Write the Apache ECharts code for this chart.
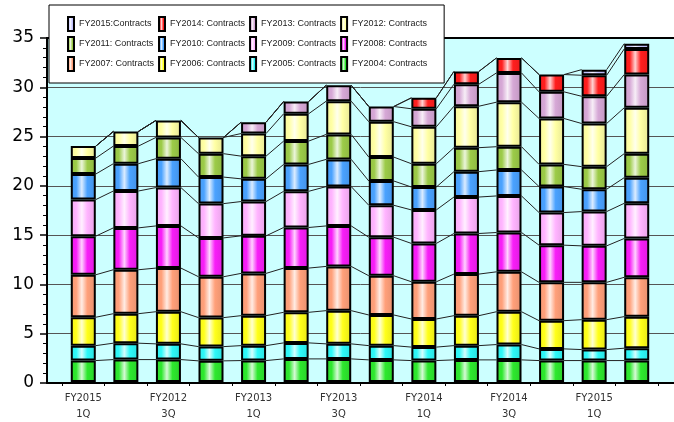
<!DOCTYPE html>
<html>
<head>
<meta charset="utf-8">
<script src="https://cdn.jsdelivr.net/npm/echarts@6/dist/echarts.min.js"></script>
<style>
  html, body { margin: 0; padding: 0; background: #fff; }
  #chart { width: 674px; height: 422px; }
</style>
</head>
<body>
<div id="chart"></div>
<script>
// Quarter categories (every other one is labelled on the axis)
const quarters = [
  'FY2015\n1Q', 'FY2012\n2Q', 'FY2012\n3Q', 'FY2012\n4Q',
  'FY2013\n1Q', 'FY2013\n2Q', 'FY2013\n3Q', 'FY2013\n4Q',
  'FY2014\n1Q', 'FY2014\n2Q', 'FY2014\n3Q', 'FY2014\n4Q',
  'FY2015\n1Q', 'FY2015\n2Q'
];

// Contract amounts per fiscal-year cohort, one value per quarter (bottom of stack first)
const fy2004 = [2.18, 2.28, 2.28, 2.15, 2.18, 2.35, 2.35, 2.25, 2.18, 2.25, 2.25, 2.18, 2.18, 2.18];
const fy2005 = [1.52, 1.67, 1.60, 1.45, 1.52, 1.63, 1.53, 1.45, 1.37, 1.45, 1.56, 1.19, 1.12, 1.26];
const fy2006 = [2.89, 3.00, 3.27, 2.95, 3.05, 3.11, 3.38, 3.12, 2.86, 3.05, 3.34, 2.87, 3.04, 3.21];
const fy2007 = [4.32, 4.47, 4.44, 4.16, 4.30, 4.50, 4.50, 3.99, 3.79, 4.23, 4.06, 3.90, 3.80, 4.00];
const fy2008 = [3.93, 4.26, 4.29, 3.95, 3.82, 4.13, 4.12, 3.92, 3.90, 4.13, 4.00, 3.78, 3.71, 3.95];
const fy2009 = [3.72, 3.75, 3.90, 3.49, 3.49, 3.68, 4.00, 3.25, 3.41, 3.71, 3.72, 3.32, 3.49, 3.58];
const fy2010 = [2.60, 2.78, 2.94, 2.70, 2.31, 2.74, 2.77, 2.47, 2.33, 2.58, 2.64, 2.64, 2.27, 2.61];
const fy2011 = [1.62, 1.79, 2.16, 2.38, 2.31, 2.37, 2.54, 2.43, 2.37, 2.44, 2.37, 2.26, 2.30, 2.44];
const fy2012 = [1.22, 1.49, 1.73, 1.65, 2.30, 2.78, 3.38, 3.60, 3.76, 4.22, 4.53, 4.67, 4.39, 4.67];
const fy2013 = [0, 0, 0, 0, 1.15, 1.25, 1.62, 1.55, 1.83, 2.24, 2.98, 2.71, 2.77, 3.38];
const fy2014 = [0, 0, 0, 0, 0, 0, 0, 0, 1.11, 1.30, 1.52, 1.76, 2.14, 2.60];
const fy2015 = [0, 0, 0, 0, 0, 0, 0, 0, 0, 0, 0, 0, 0.57, 0.54];

// Legend labels (bottom of stack first)
const seriesNames = [
  'FY2004: Contracts', 'FY2005: Contracts', 'FY2006: Contracts', 'FY2007: Contracts',
  'FY2008: Contracts', 'FY2009: Contracts', 'FY2010: Contracts', 'FY2011: Contracts',
  'FY2012: Contracts', 'FY2013: Contracts', 'FY2014: Contracts', 'FY2015:Contracts'
];
const seriesValues = [fy2004, fy2005, fy2006, fy2007, fy2008, fy2009, fy2010, fy2011, fy2012, fy2013, fy2014, fy2015];
const baseColors = [
  '#2ee82e', '#2ef8f8', '#ffff1a', '#ffa07a', '#f81ef8', '#ffb4ff',
  '#4aa2ff', '#9ccb48', '#ffffa4', '#d6a8d6', '#ff1e1e', '#c4c4ff'
];

const BAR_W = 25;

function mix(hex, target, t) {
  const a = parseInt(hex.slice(1), 16), b = parseInt(target.slice(1), 16);
  const ch = (v, s) => (v >> s) & 255;
  const m = s => Math.round(ch(a, s) + (ch(b, s) - ch(a, s)) * t);
  return 'rgb(' + m(16) + ',' + m(8) + ',' + m(0) + ')';
}
// Cylinder-like shading: solid edges with a narrow highlight left of centre
function barFill(base) {
  return new echarts.graphic.LinearGradient(0, 0, 1, 0, [
    { offset: 0, color: mix(base, '#000000', 0.04) },
    { offset: 0.22, color: base },
    { offset: 0.44, color: mix(base, '#ffffff', 0.8) },
    { offset: 0.66, color: base },
    { offset: 1, color: mix(base, '#000000', 0.1) }
  ]);
}

// Running totals for the series lines between neighbouring bars
const cumulative = [];
seriesValues.forEach((vals, k) => {
  cumulative.push(vals.map((v, i) => v + (k ? cumulative[k - 1][i] : 0)));
});
const connectorData = [];
for (let k = 0; k < cumulative.length; k++) {
  for (let i = 0; i < quarters.length - 1; i++) {
    connectorData.push([i, cumulative[k][i], cumulative[k][i + 1]]);
  }
}

const barSeries = seriesValues.map((vals, k) => ({
  name: seriesNames[k],
  type: 'bar',
  stack: 'total',
  xAxisIndex: 1,
  yAxisIndex: 1,
  barWidth: BAR_W,
  data: vals.map(v => (v === 0 ? null : v)),
  itemStyle: { color: barFill(baseColors[k]), borderColor: '#000', borderWidth: 2 },
  emphasis: { disabled: true },
  z: 3
}));

const connectorSeries = {
  type: 'custom',
  xAxisIndex: 1,
  yAxisIndex: 1,
  data: connectorData,
  encode: { x: 0, y: [1, 2] },
  silent: true,
  z: 2,
  renderItem(params, api) {
    const i = api.value(0);
    const p0 = api.coord([i, api.value(1)]);
    const p1 = api.coord([i + 1, api.value(2)]);
    return {
      type: 'line',
      shape: { x1: p0[0] + BAR_W / 2, y1: p0[1], x2: p1[0] - BAR_W / 2, y2: p1[1] },
      style: { stroke: '#222', lineWidth: 1 }
    };
  }
};

// Legend reads top-left to bottom-right, newest cohort first
const legendOrder = seriesNames.slice().reverse();

const chart = echarts.init(document.getElementById('chart'), null, { renderer: 'canvas' });
chart.setOption({
  animation: false,
  grid: [
    { left: 47, right: 0, top: 38, bottom: 39, show: true, backgroundColor: '#ccffff', borderWidth: 0 },
    { left: 62, right: 16, top: 38, bottom: 39 }
  ],
  legend: {
    data: legendOrder,
    left: 49,
    top: 5,
    width: 400,
    orient: 'horizontal',
    padding: [11, 17, 11, 18],
    itemGap: 4,
    itemWidth: 6,
    itemHeight: 14,
    icon: 'rect',
    selectedMode: false,
    backgroundColor: '#fff',
    borderColor: '#000',
    borderWidth: 1,
    itemStyle: { borderColor: '#000', borderWidth: 2 },
    textStyle: {
      fontFamily: 'Liberation Sans', fontSize: 9, color: '#222',
      width: 75, height: 16, lineHeight: 16, overflow: 'none'
    }
  },
  xAxis: [
    // plot frame: bottom and top edges
    {
      gridIndex: 0, type: 'value', min: 0, max: 1, position: 'bottom',
      axisLine: { show: true, lineStyle: { color: '#000', width: 2 } },
      axisTick: { show: false }, axisLabel: { show: false }, splitLine: { show: false }
    },
    {
      gridIndex: 1,
      type: 'category',
      data: quarters,
      axisLine: { show: false },
      axisTick: { show: true, interval: 0, length: 4, lineStyle: { color: '#000', width: 1 } },
      axisLabel: {
        interval: 1, margin: 8, color: '#333',
        fontFamily: 'DejaVu Sans', fontSize: 10, lineHeight: 16
      },
      splitLine: { show: false }
    },
    {
      gridIndex: 0, type: 'value', min: 0, max: 1, position: 'top',
      axisLine: { show: true, lineStyle: { color: '#000', width: 2 } },
      axisTick: { show: false }, axisLabel: { show: false }, splitLine: { show: false }
    }
  ],
  yAxis: [
    {
      gridIndex: 0,
      type: 'value',
      min: 0,
      max: 35,
      interval: 5,
      axisLine: { show: true, lineStyle: { color: '#000', width: 2 } },
      axisTick: { show: true, length: 7, lineStyle: { color: '#000', width: 1.5 } },
      minorTick: { show: true, splitNumber: 5, length: 4, lineStyle: { color: '#000', width: 1 } },
      axisLabel: { fontFamily: 'DejaVu Sans', fontSize: 17, color: '#000', margin: 13 },
      splitLine: { show: true, showMinLine: false, showMaxLine: false, lineStyle: { color: '#555', width: 1 } }
    },
    { gridIndex: 1, type: 'value', min: 0, max: 35, show: false }
  ],
  series: barSeries.concat([connectorSeries])
});
</script>
</body>
</html>
